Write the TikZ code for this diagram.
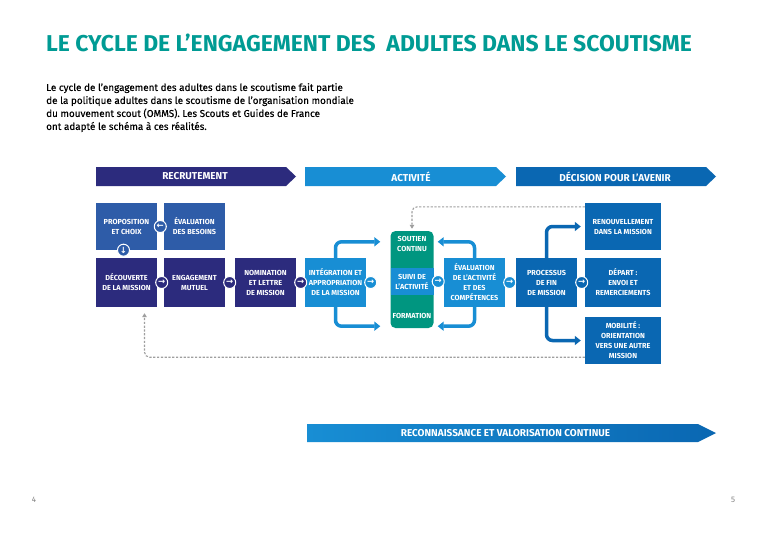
\documentclass[tikz,border=0pt]{standalone}
\usepackage{fontspec}
\setmainfont{Fira Sans}
\newfontfamily\introfont{Fira Sans}[FakeBold=0.35]
\newfontfamily\symfont{DejaVu Sans}
\usetikzlibrary{arrows.meta,calc}

\definecolor{titleteal}{RGB}{0,155,148}
\definecolor{navy}{RGB}{44,43,125}
\definecolor{propblue}{RGB}{46,92,168}
\definecolor{actblue}{RGB}{24,142,212}
\definecolor{decblue}{RGB}{10,103,178}
\definecolor{suivigreen}{RGB}{0,150,128}

\begin{document}
\begin{tikzpicture}[x=1pt,y=-1pt,
  box/.style={fill=#1,text=white,minimum width=61pt,minimum height=49pt,inner sep=1pt,
    align=center,font=\fontsize{7.3}{10}\selectfont\bfseries},
  bannertext/.style={text=white,inner sep=0pt,font=\fontsize{10}{10}\selectfont\bfseries},
  ring/.style={circle,draw=white,line width=1pt,fill=#1,minimum size=12pt,inner sep=0pt,
    text=white,font=\symfont\fontsize{8.5}{8.5}\selectfont\bfseries},
  bend/.style={draw=#1,line width=3.5pt,rounded corners=6pt,-{Triangle[length=6pt,width=9pt]}},
  back/.style={draw=gray!75,line width=1.1pt,dash pattern=on 2.2pt off 1.6pt,rounded corners=5pt,
    -{Triangle[length=4pt,width=4.5pt]}}]
  \useasboundingbox[fill=white] (0,0) rectangle (768,543);

  % titre et texte
  \node[anchor=west,inner sep=0pt,text=titleteal,font=\fontsize{22.9}{23}\selectfont\bfseries] (titre) at (46,43)
    {LE CYCLE DE L’ENGAGEMENT DES \ ADULTES DANS LE SCOUTISME};
  \node[anchor=north west,align=left,font=\introfont\fontsize{9.9}{13}\selectfont,inner sep=0pt] (intro) at (46,83)
    {Le cycle de l’engagement des adultes dans le scoutisme fait partie\\
     de la politique adultes dans le scoutisme de l’organisation mondiale\\
     du mouvement scout (OMMS). Les Scouts et Guides de France\\
     ont adapté le schéma à ces réalités.};

  % bandeaux
  \fill[navy] (96,167) -- (286,167) -- (296,176.5) -- (286,186) -- (96,186) -- cycle;
  \fill[actblue] (305,167) -- (496,167) -- (506,176.5) -- (496,186) -- (305,186) -- cycle;
  \fill[decblue] (516,167) -- (706,167) -- (716,176.5) -- (706,186) -- (516,186) -- cycle;
  \shade[left color=actblue,middle color=actblue,right color=decblue]
    (307,424) -- (698,424) -- (716,433) -- (698,442) -- (307,442) -- cycle;
  \node[bannertext] (recr) at (195,176.5) {RECRUTEMENT};
  \node[bannertext] (activ) at (411,176.5) {ACTIVITÉ};
  \node[bannertext] (decis) at (615,176.5) {DÉCISION POUR L’AVENIR};
  \node[bannertext] (reco) at (505.5,433) {RECONNAISSANCE ET VALORISATION CONTINUE};

  % recrutement
  \node[box=propblue,minimum height=47pt] (prop) at (126.5,226.5) {PROPOSITION\\ET CHOIX};
  \node[box=propblue,minimum height=47pt] (eval) at (194.5,226.5) {ÉVALUATION\\DES BESOINS};
  \node[box=navy] (decouv) at (126.5,282.5) {DÉCOUVERTE\\DE LA MISSION};
  \node[box=navy] (engag) at (194.5,282.5) {ENGAGEMENT\\MUTUEL};
  \node[box=navy] (nomin) at (265.5,282.5) {NOMINATION\\ET LETTRE\\DE MISSION};

  % activite
  \node[box=actblue] (integ) at (335.5,282.5) {INTÉGRATION ET\\APPROPRIATION\\DE LA MISSION};
  \node[fill=suivigreen,rounded corners=5pt,minimum width=43pt,minimum height=97pt] (green) at (412,279.5) {};
  \node[box=actblue,minimum width=43pt,minimum height=27pt] (suivi) at (412,281.5) {SUIVI DE\\L’ACTIVITÉ};
  \node[box=suivigreen,minimum width=40pt,minimum height=20pt] (soutien) at (412,244) {SOUTIEN\\CONTINU};
  \node[box=suivigreen,minimum width=40pt,minimum height=12pt] (formation) at (412,315.5) {FORMATION};
  \node[box=actblue] (evalact) at (474.5,282.5) {ÉVALUATION\\DE L’ACTIVITÉ\\ET DES\\COMPÉTENCES};

  % decision
  \node[box=decblue] (proc) at (546.5,282.5) {PROCESSUS\\DE FIN\\DE MISSION};
  \node[box=decblue,minimum width=76pt,minimum height=47pt] (renouv) at (623,226.5) {RENOUVELLEMENT\\DANS LA MISSION};
  \node[box=decblue,minimum width=76pt] (depart) at (623,282.5) {DÉPART :\\ENVOI ET\\REMERCIEMENTS};
  \node[box=decblue,minimum width=76pt,minimum height=47pt] (mobil) at (623,340.5) {MOBILITÉ :\\ORIENTATION\\VERS UNE AUTRE\\MISSION};

  % fleches courbes
  \draw[bend=actblue] (integ.north) |- ([shift={(-10pt,-11pt)}]green.north west);
  \draw[bend=actblue] (integ.south) |- ([shift={(-10pt,2pt)}]green.south west);
  \draw[bend=actblue] (evalact.north) |- ([shift={(4pt,-11pt)}]green.north east);
  \draw[bend=actblue] (evalact.south) |- ([shift={(4pt,2pt)}]green.south east);
  \draw[bend=decblue] (proc.north) |- ([xshift=-4pt]renouv.west);
  \draw[bend=decblue] (proc.south) |- ([xshift=-4pt]mobil.west);

  % retours en pointilles
  \draw[back,shorten >=2pt] ([yshift=-4pt]renouv.north west) -| (green.north);
  \draw[back,shorten >=6pt] ([yshift=7pt]mobil.south west) -| ([xshift=18pt]decouv.south);

  % pastilles
  \foreach \a/\c in {decouv/navy,engag/navy,nomin/navy,integ/actblue,suivi/actblue,evalact/actblue,proc/decblue}
    \node[ring=\c] at ($(\a.east)+(4.5,0)$) {→};
  \node[ring=propblue] at ($(eval.west)+(-3.5,0)$) {←};
  \node[ring=propblue] at ([xshift=-3pt]prop.south) {↓};

  % pages
  \node[text=gray,font=\fontsize{8}{8}\selectfont] (p4) at (34,500) {4};
  \node[text=gray,font=\fontsize{8}{8}\selectfont] (p5) at (733,500) {5};
\end{tikzpicture}
\end{document}
